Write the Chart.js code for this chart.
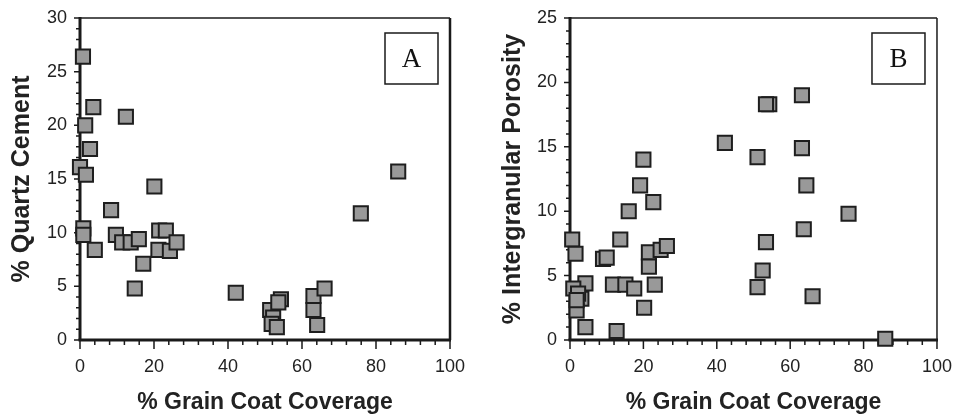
<!DOCTYPE html>
<html>
<head>
<meta charset="utf-8">
<script src="https://cdn.jsdelivr.net/npm/chart.js@4.4.1/dist/chart.umd.min.js"></script>
<style>
  body { margin: 0; background: #fff; }
  .wrap { position: absolute; top: 0; width: 480px; height: 416px; }
</style>
</head>
<body>
<div class="wrap" style="left:0"><canvas id="chartA" width="480" height="416"></canvas></div>
<div class="wrap" style="left:480px"><canvas id="chartB" width="480" height="416"></canvas></div>
<script>
// panel A: grain coat coverage vs quartz cement
const coverA = [0.8, 3.6, 12.4, 1.4, 2.7, 0, 1.6, 20.1, 8.4, 0.9, 0.9, 4.0, 9.7, 11.4, 13.7, 15.9,
  17.1, 14.8, 21.4, 23.2, 21.2, 24.3, 26.1, 42.1, 86.0, 75.9, 51.4, 52.2, 54.3, 53.6, 51.8, 53.2,
  63.1, 63.1, 66.1, 64.1];
const quartzCement = [26.4, 21.7, 20.8, 20.0, 17.8, 16.1, 15.4, 14.3, 12.1, 10.4, 9.8, 8.4, 9.8, 9.1, 9.1, 9.4,
  7.1, 4.8, 10.2, 10.2, 8.4, 8.3, 9.1, 4.4, 15.7, 11.8, 2.8, 2.1, 3.8, 3.5, 1.5, 1.2,
  4.1, 2.8, 4.8, 1.4];

// panel B: grain coat coverage vs intergranular porosity
const coverB = [20.0, 19.1, 42.2, 51.1, 54.3, 53.4, 63.2, 63.2, 64.4, 75.9, 63.7, 53.4, 52.5, 51.1, 66.1, 85.9,
  22.7, 16.0, 13.7, 0.6, 1.5, 9.0, 10.0, 21.5, 21.5, 24.7, 26.4, 23.1, 11.7, 15.1, 17.5, 20.2,
  12.7, 4.2, 0.9, 3.1, 2.2, 1.8, 4.2, 1.8];
const porosity = [14.0, 12.0, 15.3, 14.2, 18.3, 18.3, 19.0, 14.9, 12.0, 9.8, 8.6, 7.6, 5.4, 4.1, 3.4, 0.1,
  10.7, 10.0, 7.8, 7.8, 6.7, 6.3, 6.4, 6.8, 5.7, 7.0, 7.3, 4.3, 4.3, 4.3, 4.0, 2.5,
  0.7, 4.4, 4.0, 3.2, 3.6, 2.3, 1.0, 3.1];

const xTicks = [0, 20, 40, 60, 80, 100];
const yTicksA = [0, 5, 10, 15, 20, 25, 30];
const yTicksB = [0, 5, 10, 15, 20, 25];

const sans = "'Liberation Sans', Arial, sans-serif";

// axes, tick marks and the panel letter box, drawn under the points
function framePlugin(letter, rightWidth) {
  return {
    id: 'frame' + letter,
    beforeDatasetsDraw(chart) {
      const ctx = chart.ctx;
      const a = chart.chartArea;
      const sx = chart.scales.x, sy = chart.scales.y;
      ctx.save();
      ctx.strokeStyle = '#1a1a1a';
      // top, right
      ctx.lineWidth = 1.5;
      ctx.beginPath(); ctx.moveTo(a.left, a.top); ctx.lineTo(a.right, a.top); ctx.stroke();
      ctx.lineWidth = rightWidth;
      ctx.beginPath(); ctx.moveTo(a.right, a.top); ctx.lineTo(a.right, a.bottom); ctx.stroke();
      // ticks: x every 4, y every 1
      ctx.lineWidth = 1.5;
      ctx.beginPath();
      for (let i = 0; i <= 25; i++) {
        const px = sx.getPixelForValue(i * 4);
        ctx.moveTo(px, a.bottom);
        ctx.lineTo(px, a.bottom + (i % 5 === 0 ? 9 : 5));
      }
      for (let i = 0; i <= sy.max; i++) {
        const py = sy.getPixelForValue(i);
        ctx.moveTo(a.left - (i % 5 === 0 ? 6 : 4), py);
        ctx.lineTo(a.left, py);
      }
      ctx.stroke();
      // thick left and bottom axes
      ctx.lineWidth = 3;
      ctx.beginPath(); ctx.moveTo(a.left, a.top - 1); ctx.lineTo(a.left, a.bottom); ctx.stroke();
      ctx.beginPath(); ctx.moveTo(a.left - 1.5, a.bottom); ctx.lineTo(a.right + 1, a.bottom); ctx.stroke();
      // letter box
      const bw = 53, bh = 51;
      const bx = a.right - 12 - bw, by = a.top + 15;
      ctx.lineWidth = 1.5;
      ctx.strokeRect(bx, by, bw, bh);
      ctx.fillStyle = '#111';
      ctx.font = "27px 'Liberation Serif', 'Times New Roman', serif";
      ctx.textAlign = 'center';
      ctx.textBaseline = 'middle';
      ctx.fillText(letter, bx + bw / 2, by + bh / 2 + 1);
      ctx.restore();
    }
  };
}

function makeChart(id, xv, yv, yMax, yTicks, yTitle, cfg) {
  const pts = xv.map((x, i) => ({ x: x, y: yv[i] }));
  return new Chart(document.getElementById(id), {
    type: 'scatter',
    data: {
      datasets: [{
        data: pts,
        pointStyle: 'rect',
        pointRadius: 10,
        pointHoverRadius: 10,
        pointBackgroundColor: '#999999',
        pointBorderColor: '#1e1e1e',
        pointBorderWidth: 2,
        clip: false
      }]
    },
    options: {
      responsive: false,
      animation: false,
      layout: { padding: { top: 18, right: cfg.padRight, bottom: 0, left: 0 } },
      plugins: {
        legend: { display: false },
        tooltip: { enabled: false }
      },
      scales: {
        x: {
          type: 'linear',
          min: 0,
          max: 100,
          afterBuildTicks: s => { s.ticks = xTicks.map(v => ({ value: v })); },
          afterFit: s => { s.height = 76; },
          grid: { display: false },
          border: { display: false },
          ticks: { color: '#222', padding: 8, font: { family: sans, size: 18 } },
          title: {
            display: true,
            text: '% Grain Coat Coverage',
            color: '#222',
            padding: { top: 0, bottom: 0 },
            font: { family: sans, size: 23, weight: 'bold' }
          }
        },
        y: {
          type: 'linear',
          min: 0,
          max: yMax,
          afterBuildTicks: s => { s.ticks = yTicks.map(v => ({ value: v })); },
          afterFit: s => { s.width = cfg.yWidth; },
          grid: { display: false },
          border: { display: false },
          ticks: { color: '#222', padding: 5, font: { family: sans, size: 18 } },
          title: {
            display: true,
            text: yTitle,
            color: '#222',
            padding: { top: cfg.yTitlePad, bottom: 0 },
            font: { family: sans, size: 25, weight: 'bold' }
          }
        }
      }
    },
    plugins: [framePlugin(cfg.letter, cfg.rightWidth)]
  });
}

makeChart('chartA', coverA, quartzCement, 30, yTicksA, '% Quartz Cement',
  { letter: 'A', padRight: 30, yWidth: 80, yTitlePad: 7, rightWidth: 2.5 });
makeChart('chartB', coverB, porosity, 25, yTicksB, '% Intergranular Porosity',
  { letter: 'B', padRight: 18, yWidth: 90, yTitlePad: 18, rightWidth: 1.5 });
</script>
</body>
</html>
